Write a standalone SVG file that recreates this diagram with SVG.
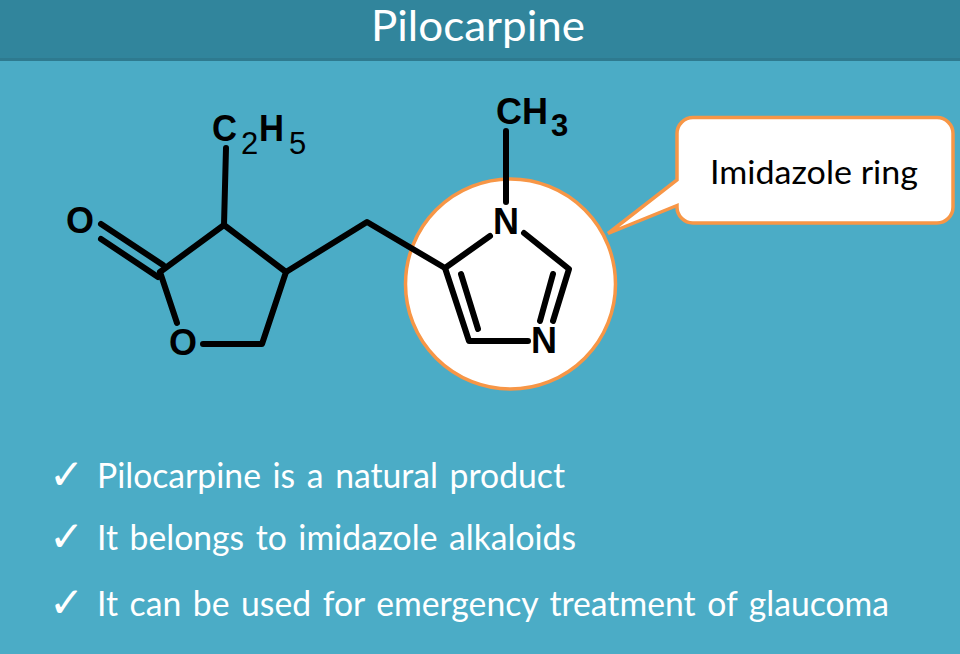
<svg xmlns="http://www.w3.org/2000/svg" width="960" height="654" viewBox="0 0 960 654">
<style>
.b{fill:none;stroke:#000;stroke-width:6;stroke-linecap:round;stroke-linejoin:round}
.a{font-family:"Liberation Sans",Arial,sans-serif;font-weight:bold;font-size:37px;fill:#000}
.s{font-family:"Liberation Sans",Arial,sans-serif;font-size:31px;fill:#000}
.w{font-family:Lato,"Open Sans",sans-serif;font-size:34px;fill:#fff;word-spacing:3px}
.c{font-family:"DejaVu Sans",sans-serif;font-size:42px;fill:#fff}
</style>
<rect id="background" width="960" height="654" fill="#4BACC6"/>
<g id="header">
<rect width="960" height="61" fill="#31859C"/>
<rect y="58" width="960" height="3" fill="#2E7A8F"/>
<text x="371" y="41" textLength="214" lengthAdjust="spacingAndGlyphs" font-family="Lato,'Open Sans',sans-serif" font-size="43" fill="#fff">Pilocarpine</text>
</g>
<g id="ring-highlight"><circle cx="510.500" cy="284" r="105" fill="#fff" stroke="#F79646" stroke-width="3.500"/></g>
<g id="callout">
<path d="M693 117.500H937A16 16 0 0 1 953 133.500V207A16 16 0 0 1 937 223H693A16 16 0 0 1 677 207V205.500L608 233.500L677 180V133.500A16 16 0 0 1 693 117.500Z" fill="#fff" stroke="#F79646" stroke-width="3.500" stroke-linejoin="miter"/>
<text x="710" y="184" textLength="208" lengthAdjust="spacingAndGlyphs" font-family="Lato,'Open Sans',sans-serif" font-size="33" fill="#000">Imidazole ring</text>
</g>
<g id="connectors">
<path class="b" d="M101 224L163 265M101 239L158 277"/>
<path class="b" d="M160 272L224 225L286 272L262 344H203M160 272L177 323"/>
<path class="b" d="M224 225L226 148"/>
<path class="b" d="M286 272L367 222L445 268L490 236"/>
<path class="b" d="M506 131V202"/>
<path class="b" d="M524 233L569 269L553 321M553 274L540 321"/>
<path class="b" d="M445 268L469 341H528M461 274L478 329"/>
</g>
<g id="atom-o1"><text class="a" x="66" y="233" textLength="28" lengthAdjust="spacingAndGlyphs">O</text></g>
<g id="atom-o2"><text class="a" x="169" y="355" textLength="28" lengthAdjust="spacingAndGlyphs">O</text></g>
<g id="group-c2h5"><text class="a" x="212" y="141" textLength="25" lengthAdjust="spacingAndGlyphs">C</text><text class="s" x="241" y="154">2</text><text class="a" x="259" y="141" textLength="25" lengthAdjust="spacingAndGlyphs">H</text><text class="s" x="289" y="154">5</text></g>
<g id="group-ch3"><text class="a" x="496" y="124" textLength="52" lengthAdjust="spacingAndGlyphs">CH</text><text class="a" x="551" y="136" style="font-size:31px">3</text></g>
<g id="atom-n1"><text class="a" x="493" y="234" textLength="26" lengthAdjust="spacingAndGlyphs">N</text></g>
<g id="atom-n2"><text class="a" x="531" y="353" textLength="26" lengthAdjust="spacingAndGlyphs">N</text></g>
<g id="list">
<text class="c" x="49" y="489">✓</text><text class="w" x="97" y="488" textLength="468" lengthAdjust="spacingAndGlyphs">Pilocarpine is a natural product</text>
<text class="c" x="49" y="551">✓</text><text class="w" x="97" y="550" textLength="479" lengthAdjust="spacingAndGlyphs">It belongs to imidazole alkaloids</text>
<text class="c" x="49" y="617">✓</text><text class="w" x="97" y="616" textLength="792" lengthAdjust="spacingAndGlyphs">It can be used for emergency treatment of glaucoma</text>
</g>
</svg>
